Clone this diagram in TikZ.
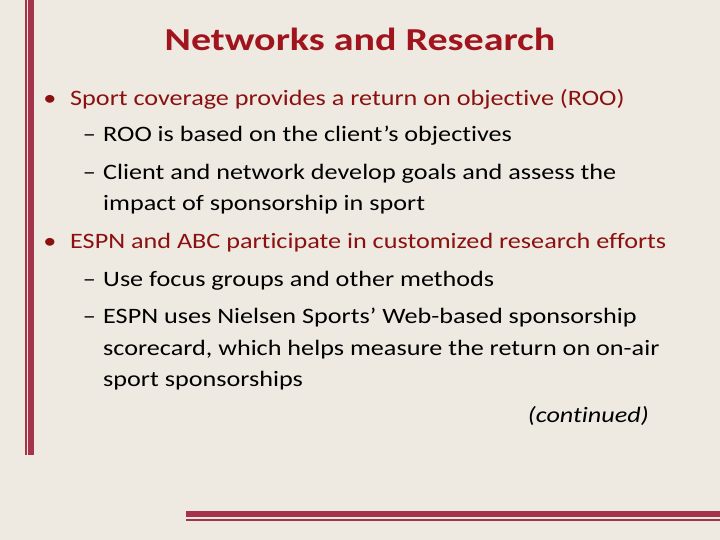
\documentclass[tikz,border=0pt]{standalone}
\usepackage{fontspec}
\setmainfont{Carlito}[FakeStretch=1.19,Ligatures={NoCommon,NoRequired,NoContextual}]
\newfontfamily\ttlfont{Carlito}[FakeStretch=1.25,Ligatures={NoCommon}]
\definecolor{bg}{HTML}{EEEAE1}
\definecolor{bar}{HTML}{A3344A}
\definecolor{ttl}{HTML}{A0141E}
\definecolor{lone}{HTML}{8B1010}
\begin{document}
\begin{tikzpicture}[x=1pt,y=-1pt,
  l1/.style={anchor=base west,inner sep=0,font=\fontsize{22}{26}\selectfont,text=lone},
  l2/.style={anchor=base west,inner sep=0,font=\fontsize{22}{26}\selectfont,text=black},
  bul/.style={anchor=base,inner sep=0,font=\fontsize{22}{24}\selectfont,text=lone}]
\fill[bg] (0,0) rectangle (720,540);
\useasboundingbox (0,0) rectangle (720,540);
\fill[bar] (25,0) rectangle (27,455);
\fill[bar] (28,0) rectangle (34,455);
\fill[bar] (186,511) rectangle (720,517);
\fill[bar] (186,519) rectangle (720,521);
\node[anchor=base,inner sep=0,font=\ttlfont\fontsize{32}{38}\selectfont\bfseries,text=ttl] (title) at (360,51) {Networks and Research};
\node[bul] (b1) at (50,106) {•};
\node[l1] (t1) at (70,106) {Sport coverage provides a return on objective (ROO)};
\node[l2] (d1) at (103,142) {};
\node[l2,anchor=base east] (d1) at (96,142) {–};
\node[l2] (t2) at (103,142) {ROO is based on the client’s objectives};
\node[l2,anchor=base east] (d2) at (96,180) {–};
\node[l2] (t3) at (103,180) {Client and network develop goals and assess the};
\node[l2] (t4) at (103,211) {impact of sponsorship in sport};
\node[bul] (b2) at (50,248) {•};
\node[l1] (t5) at (70,248) {ESPN and ABC participate in customized research efforts};
\node[l2,anchor=base east] (d3) at (96,286) {–};
\node[l2] (t6) at (103,286) {Use focus groups and other methods};
\node[l2,anchor=base east] (d4) at (96,323) {–};
\node[l2] (t7) at (103,323) {ESPN uses Nielsen Sports’ Web-based sponsorship};
\node[l2] (t8) at (103,355) {scorecard, which helps measure the return on on-air};
\node[l2] (t9) at (103,386) {sport sponsorships};
\node[anchor=base east,inner sep=0,font=\fontsize{22}{26}\selectfont\itshape] (cont) at (649,422) {(continued)};
\end{tikzpicture}
\end{document}
